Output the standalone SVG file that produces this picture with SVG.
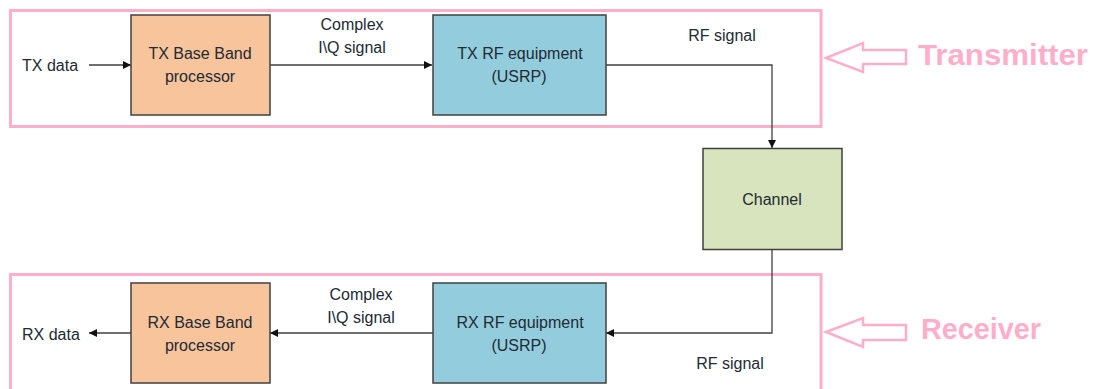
<svg xmlns="http://www.w3.org/2000/svg" width="1094" height="389" viewBox="0 0 1094 389">
  <defs>
    <marker id="arrow" markerUnits="userSpaceOnUse" markerWidth="10" markerHeight="10" refX="8" refY="4" orient="auto">
      <path d="M0,0 L8,4 L0,8 Z" fill="#111"/>
    </marker>
    <style>
      .frame { fill: none; stroke: #ffaec9; stroke-width: 3; }
      .hollow { fill: #fff; stroke: #ffaec9; stroke-width: 2.5; stroke-linejoin: miter; }
      .tag { font-family: "Liberation Sans", Arial, sans-serif; font-weight: bold; font-size: 29px; fill: #ffaec9; }
      .box { stroke: #404040; stroke-width: 1.5; }
      .bb { fill: #f8c49c; }
      .rf { fill: #93cddd; }
      .ch { fill: #d7e4bd; }
      .lbl { font-family: "Liberation Sans", Arial, sans-serif; font-size: 16px; fill: #222a33; text-anchor: middle; }
      .side { font-family: "Liberation Sans", Arial, sans-serif; font-size: 16px; fill: #222a33; }
      .wire { fill: none; stroke: #404040; stroke-width: 1.3; }
    </style>
  </defs>

  <!-- section frames and their labels -->
  <g id="transmitter-frame">
    <rect class="frame" x="10.5" y="10.5" width="810.5" height="116"/>
    <polygon class="hollow" points="826,58 863,43 863,50 906,50 906,64 863,64 863,72"/>
    <text class="tag" x="918" y="65" textLength="170" lengthAdjust="spacingAndGlyphs">Transmitter</text>
  </g>
  <g id="receiver-frame">
    <rect class="frame" x="10.5" y="274.5" width="810.5" height="120"/>
    <polygon class="hollow" points="826,332 863,318 863,325 906,325 906,340 863,340 863,347"/>
    <text class="tag" x="921" y="339" textLength="120" lengthAdjust="spacingAndGlyphs">Receiver</text>
  </g>

  <!-- connectors -->
  <g id="connectors">
    <line class="wire" x1="89" y1="65" x2="131" y2="65" marker-end="url(#arrow)"/>
    <line class="wire" x1="270" y1="65" x2="432" y2="65" marker-end="url(#arrow)"/>
    <polyline class="wire" points="606,65 772,65 772,148" marker-end="url(#arrow)"/>
    <polyline class="wire" points="772,249 772,333 606,333" marker-end="url(#arrow)"/>
    <line class="wire" x1="433" y1="333" x2="270" y2="333" marker-end="url(#arrow)"/>
    <line class="wire" x1="131" y1="333" x2="89" y2="333" marker-end="url(#arrow)"/>
    <text class="side" x="22" y="71">TX data</text>
    <text class="lbl" x="352" y="30">Complex</text>
    <text class="lbl" x="352" y="53">I\Q signal</text>
    <text class="lbl" x="722" y="41">RF signal</text>
    <text class="lbl" x="361" y="300">Complex</text>
    <text class="lbl" x="361" y="323">I\Q signal</text>
    <text class="lbl" x="730" y="369">RF signal</text>
    <text class="side" x="22" y="340">RX data</text>
  </g>

  <!-- nodes -->
  <g id="tx-baseband">
    <rect class="box bb" x="131" y="15" width="139" height="100"/>
    <text class="lbl" x="200" y="59">TX Base Band</text>
    <text class="lbl" x="200" y="82">processor</text>
  </g>
  <g id="tx-rf">
    <rect class="box rf" x="433" y="15" width="173" height="100"/>
    <text class="lbl" x="520" y="59">TX RF equipment</text>
    <text class="lbl" x="519" y="82">(USRP)</text>
  </g>
  <g id="channel">
    <rect class="box ch" x="703" y="148.5" width="139" height="101"/>
    <text class="lbl" x="772" y="205">Channel</text>
  </g>
  <g id="rx-rf">
    <rect class="box rf" x="433" y="283" width="173" height="100"/>
    <text class="lbl" x="520" y="328">RX RF equipment</text>
    <text class="lbl" x="519" y="351">(USRP)</text>
  </g>
  <g id="rx-baseband">
    <rect class="box bb" x="131" y="283" width="139" height="100"/>
    <text class="lbl" x="200" y="328">RX Base Band</text>
    <text class="lbl" x="200" y="351">processor</text>
  </g>
</svg>
